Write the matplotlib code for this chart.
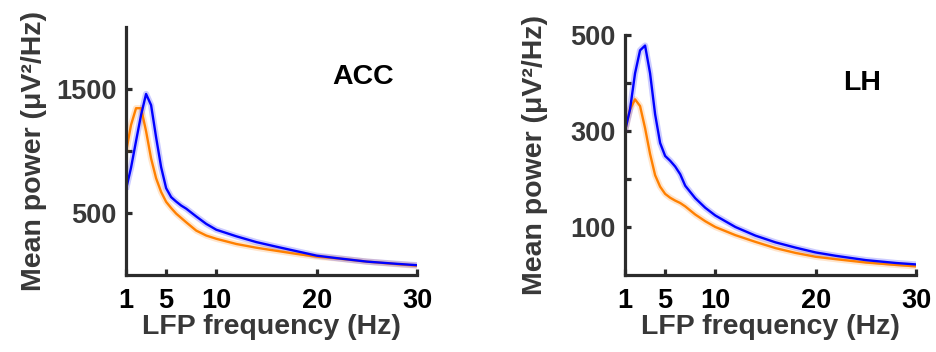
import matplotlib
matplotlib.use("Agg")
import matplotlib.pyplot as plt

plt.rcParams["font.family"] = ["Liberation Sans", "DejaVu Sans"]
plt.rcParams["font.weight"] = "bold"

# frequency grid (Hz)
freq = [1, 1.5, 2, 2.5, 3, 3.5, 4, 4.5, 5, 5.5, 6, 6.5, 7, 8, 9, 10,
        12, 14, 16, 18, 20, 22, 25, 28, 30]

# ACC mean power
acc_blue = [690, 865, 1080, 1290, 1460, 1370, 1110, 870, 700, 628, 592, 560,
            535, 472, 412, 365, 312, 265, 228, 192, 156, 136, 108, 90, 79]
acc_orange = [990, 1210, 1345, 1345, 1160, 940, 780, 670, 590, 540, 495, 460,
              425, 358, 318, 292, 250, 220, 195, 170, 148, 134, 108, 87, 75]

# LH mean power
lh_blue = [300, 345, 420, 468, 478, 420, 335, 275, 248, 238, 226, 210,
           186, 160, 140, 124, 100, 82, 68, 57, 47, 40, 31, 25, 22]
lh_orange = [300, 345, 366, 352, 306, 252, 208, 184, 169, 161, 155, 150,
             143, 126, 112, 100, 83, 69, 56, 46, 38, 33, 26, 21, 18]

xticks = [1, 5, 10, 20, 30]
BLUE = "#0000ff"
ORANGE = "#ff8000"
AXC = "#2b2b2b"

fig = plt.figure(figsize=(9.36, 3.52), dpi=100)
ax1 = fig.add_axes([126 / 936, 1 - 275 / 352, 291 / 936, 248 / 352])
ax2 = fig.add_axes([625 / 936, 1 - 275 / 352, 291 / 936, 240 / 352])

panels = [
    (ax1, acc_blue, acc_orange, (0, 2000), [500, 1000, 1500], ["500", "", "1500"], "ACC", -0.272, -0.158),
    (ax2, lh_blue, lh_orange, (0, 500), [100, 200, 300, 400, 500], ["100", "", "300", "", "500"], "LH", -0.265, -0.163),
]

for ax, blue, orange, ylim, yt, ytl, name, ylab_x, xlab_y in panels:
    # faint band under each trace to mimic the error shading
    ax.plot(freq, orange, color=ORANGE, lw=4.5, alpha=0.2, solid_capstyle="butt")
    ax.plot(freq, blue, color=BLUE, lw=4.5, alpha=0.2, solid_capstyle="butt")
    ax.plot(freq, orange, color=ORANGE, lw=1.7)
    ax.plot(freq, blue, color=BLUE, lw=1.7)

    ax.set_xlim(1, 30)
    ax.set_ylim(*ylim)
    ax.set_xticks(xticks)
    ax.set_xticklabels([str(t) for t in xticks])
    ax.set_yticks(yt)
    ax.set_yticklabels(ytl)

    for s in ["top", "right"]:
        ax.spines[s].set_visible(False)
    for s in ["left", "bottom"]:
        ax.spines[s].set_linewidth(2.3)
        ax.spines[s].set_color(AXC)

    ax.tick_params(direction="in", length=4, width=2.3, color=AXC, labelsize=19.5)
    ax.tick_params(axis="x", pad=9, labelcolor="black")
    ax.tick_params(axis="y", pad=7, labelcolor="#383838")

    ax.set_xlabel("LFP frequency (Hz)", fontsize=20.5, fontweight="bold", color="#383838")
    ax.set_ylabel("Mean power (μV²/Hz)", fontsize=20.5, fontweight="bold", color="#383838")
    ax.xaxis.set_label_coords(0.5, xlab_y)
    ax.yaxis.set_label_coords(ylab_x, 0.5)

    ax.text(0.815, 0.80, name, transform=ax.transAxes, ha="center", va="center",
            fontsize=20.5, fontweight="bold", color="black")

fig.savefig("out.png", dpi=100)
